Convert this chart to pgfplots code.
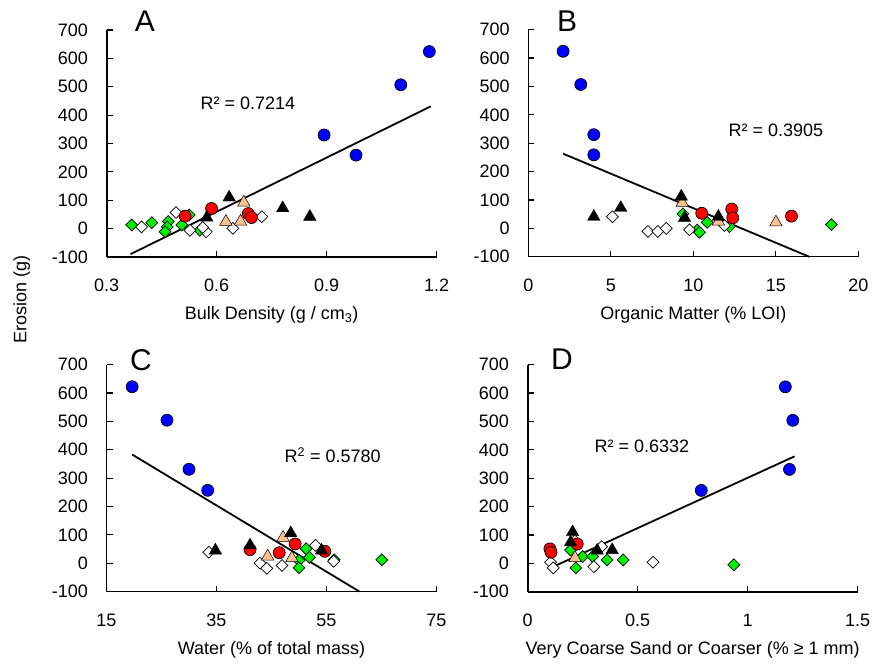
\documentclass[border=0pt]{standalone}
\usepackage{fontspec}
\setmainfont{Liberation Sans}
\usepackage{pgfplots}
\pgfplotsset{compat=1.18}
\definecolor{ptblue}{HTML}{0000FF}
\definecolor{ptred}{HTML}{FF0000}
\definecolor{ptgreen}{HTML}{00F000}
\definecolor{pttan}{HTML}{FAC090}
\newcommand{\fsz}{\fontsize{18}{21.5}\selectfont}

\pgfplotsset{
  panel/.style={
    scale only axis, width=330pt, height=227pt, anchor=south west,
    ymin=-100, ymax=700, ytick={-100,0,...,700},
    axis lines=left, axis line style={-, line width=1.6pt},
    tick align=inside, major tick length=6pt,
    tick style={line width=1.2pt, black},
    tick label style={font=\fsz, inner sep=0pt},
    /pgf/number format/assume math mode=true,
    yticklabel style={anchor=east, xshift=-18.5pt},
    xticklabel style={anchor=center, yshift=-28.7pt},
    xlabel style={font=\fsz, at={(axis description cs:0.5,0)}, anchor=center, yshift=-58pt},
    clip=false,
  },
  sgreen/.style={only marks, mark=square*, mark size=4.2pt,
    mark options={rotate=45, fill=ptgreen, draw=black, line width=0.7pt}},
  swhite/.style={only marks, mark=square*, mark size=4.2pt,
    mark options={rotate=45, fill=white, draw=black, line width=0.7pt}},
  stan/.style={only marks, mark=triangle*, mark size=7.2pt,
    mark options={fill=pttan, draw=black, line width=0.5pt}},
  sred/.style={only marks, mark=*, mark size=6pt,
    mark options={fill=ptred, draw=black, line width=0.7pt}},
  sblack/.style={only marks, mark=triangle*, mark size=7.2pt,
    mark options={fill=black, draw=black}},
  sblue/.style={only marks, mark=*, mark size=6pt,
    mark options={fill=ptblue, draw=black, line width=0.7pt}},
  trend/.style={no marks, black, line width=1.8pt},
}

\begin{document}
\begin{tikzpicture}
\useasboundingbox (0,0) rectangle (873pt,665pt);

% A: bulk density
\begin{axis}[panel, at={(106.7pt,408pt)},
  xmin=0.3, xmax=1.2, xtick={0.3,0.6,0.9,1.2},
  xticklabels={0.3,0.6,0.9,1.2},
  xlabel={Bulk Density (g / cm\textsubscript{3})}]
\addplot[sgreen] coordinates {(0.368,13)(0.423,21)(0.468,25)(0.465,6)(0.459,-11)(0.505,13)(0.525,48)(0.554,-6)};
\addplot[swhite] coordinates {(0.395,6)(0.489,57)(0.527,-6)(0.571,-11)(0.562,4)(0.644,1)(0.723,42)};
\addplot[stan] coordinates {(0.674,92)(0.625,24)(0.665,25)};
\addplot[sred] coordinates {(0.514,44)(0.586,71)(0.686,53)(0.695,39)};
\addplot[sblack] coordinates {(0.634,110)(0.780,72)(0.854,42)(0.573,39)};
\addplot[sblue] coordinates {(0.893,330)(0.980,259)(1.102,507)(1.180,624)};
\addplot[trend] coordinates {(0.365,-90)(1.184,431)};
\node[font=\fsz] at (axis cs:0.685,441) {R² = 0.7214};
\end{axis}

% B: organic matter
\begin{axis}[panel, at={(528.3pt,408.3pt)},
  xmin=0, xmax=20, xtick={0,5,...,20},
  xlabel={Organic Matter (\% LOI)}]
\addplot[sgreen] coordinates {(9.37,51)(10.24,-6)(10.37,-14)(10.84,21)(12.19,6)(18.37,13)};
\addplot[swhite] coordinates {(5.10,41)(7.25,-11)(7.85,-11)(8.36,0)(9.77,-5)(11.89,10)};
\addplot[stan] coordinates {(9.33,90)(11.52,24)(15.01,21)};
\addplot[sred] coordinates {(10.51,53)(12.33,68)(12.39,37)(15.95,43)};
\addplot[sblack] coordinates {(3.97,41)(5.60,72)(9.27,112)(9.47,37)(11.52,41)};
\addplot[sblue] coordinates {(2.11,624)(3.18,507)(3.97,330)(3.97,259)};
\addplot[trend] coordinates {(2.11,263)(17.02,-100)};
\node[font=\fsz] at (axis cs:15.0,345) {R² = 0.3905};
\end{axis}

% C: water
\begin{axis}[panel, at={(106.5pt,73.4pt)},
  xmin=15, xmax=75, xtick={15,35,55,75},
  xlabel={Water (\% of total mass)}]
\addplot[sgreen] coordinates {(51.3,51)(51.9,21)(50.0,10)(50.0,-16)(65.05,12)(56.4,12)};
\addplot[swhite] coordinates {(33.6,39)(42.9,0)(44.15,-18)(46.9,-8)(53.0,63)(56.3,7)};
\addplot[stan] coordinates {(47.1,90)(44.3,24)(48.7,18)};
\addplot[sred] coordinates {(41.1,48)(49.3,68)(46.4,37)(54.7,42)};
\addplot[sblack] coordinates {(34.8,45)(41.1,63)(48.5,106)(54.1,45)};
\addplot[sblue] coordinates {(19.67,622)(26.0,504)(30.0,331)(33.4,257)};
\addplot[trend] coordinates {(19.67,383)(61.0,-100)};
\node[font=\fsz] at (axis cs:56.1,381) {R\textsuperscript{2} = 0.5780};
\end{axis}

% D: very coarse sand
\begin{axis}[panel, at={(527.7pt,73.3pt)},
  xmin=0, xmax=1.5, xtick={0,0.5,1,1.5},
  xticklabels={0,0.5,1,1.5},
  xlabel={Very Coarse Sand or Coarser (\% ≥ 1 mm)}]
\addplot[sgreen] coordinates {(0.195,47)(0.219,-16)(0.250,24)(0.295,24)(0.361,12)(0.434,12)(0.937,-5)};
\addplot[swhite] coordinates {(0.104,4)(0.116,-16)(0.301,-12)(0.336,59)(0.570,4)};
\addplot[stan] coordinates {(0.215,80)(0.215,19)};
\addplot[sred] coordinates {(0.101,51)(0.106,39)(0.225,68)};
\addplot[sblack] coordinates {(0.204,110)(0.195,74)(0.316,45)(0.384,47)};
\addplot[sblue] coordinates {(0.789,257)(1.171,622)(1.205,504)(1.190,331)};
\addplot[trend] coordinates {(0.116,-12)(1.213,377)};
\node[font=\fsz] at (axis cs:0.519,412) {R² = 0.6332};
\end{axis}

\node[rotate=90, font=\fsz] at (21.7pt,366pt) {Erosion (g)};
\node[font=\fontsize{30}{34}\selectfont] at (145pt,644pt) {A};
\node[font=\fontsize{30}{34}\selectfont] at (567pt,644pt) {B};
\node[font=\fontsize{30}{34}\selectfont] at (141pt,305pt) {C};
\node[font=\fontsize{30}{34}\selectfont] at (562pt,306pt) {D};
\end{tikzpicture}
\end{document}
